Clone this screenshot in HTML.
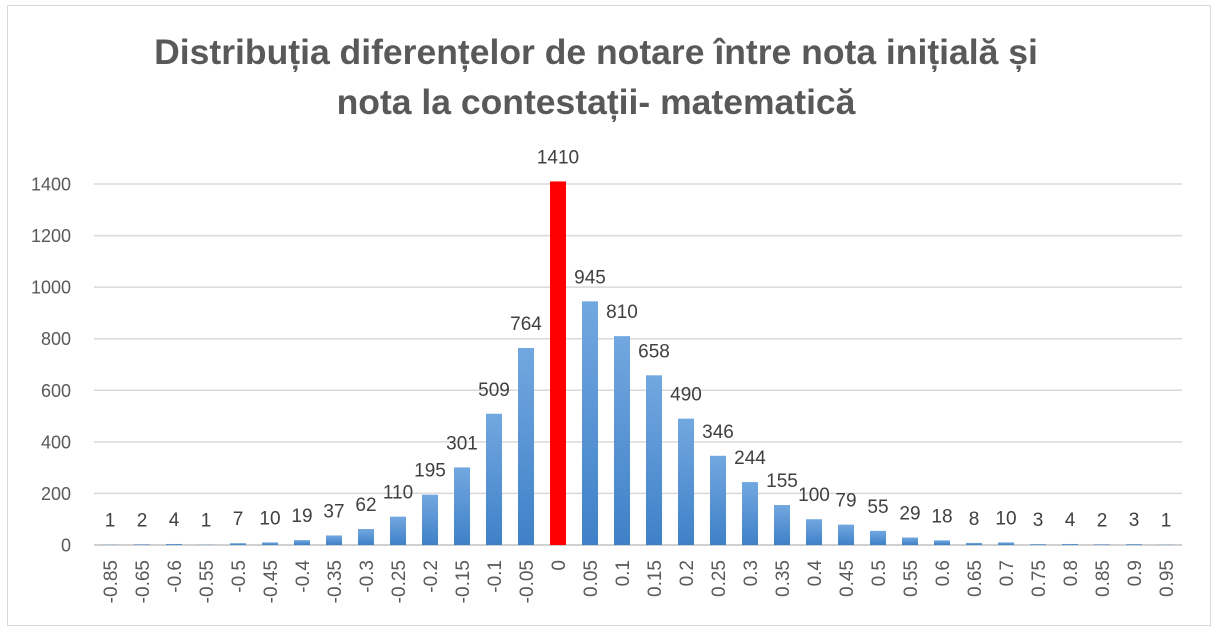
<!DOCTYPE html>
<html><head><meta charset="utf-8"><style>body{margin:0;background:#fff}svg{display:block}</style></head><body>
<svg width="1221" height="633" xmlns="http://www.w3.org/2000/svg" font-family="Liberation Sans, DejaVu Sans, sans-serif">
<defs><linearGradient id="g" x1="0" y1="0" x2="0" y2="1"><stop offset="0" stop-color="#72a8e0"/><stop offset="1" stop-color="#3f80c8"/></linearGradient></defs>
<rect x="0" y="0" width="1221" height="633" fill="#fff"/>
<rect x="7.5" y="5.5" width="1203" height="620" fill="none" stroke="#d9d9d9"/>
<text x="596" y="64" text-anchor="middle" font-size="35.5" font-weight="bold" fill="#595959">Distribuția diferențelor de notare între nota inițială și</text>
<text x="596" y="114" text-anchor="middle" font-size="35.5" font-weight="bold" fill="#595959">nota la contestații- matematică</text>
<g stroke="#d9d9d9" stroke-width="1.5" id="grid"></g>
<g id="yl" font-size="18" fill="#595959" text-anchor="end"></g>
<g id="bars"></g>
<g id="lab" font-size="19" fill="#404040" text-anchor="middle"></g>
<g id="xl" font-size="19" fill="#595959"></g>
</svg>
<script>
const ns="http://www.w3.org/2000/svg";
const cats=["-0.85","-0.65","-0.6","-0.55","-0.5","-0.45","-0.4","-0.35","-0.3","-0.25","-0.2","-0.15","-0.1","-0.05","0","0.05","0.1","0.15","0.2","0.25","0.3","0.35","0.4","0.45","0.5","0.55","0.6","0.65","0.7","0.75","0.8","0.85","0.9","0.95"];
const vals=[1,2,4,1,7,10,19,37,62,110,195,301,509,764,1410,945,810,658,490,346,244,155,100,79,55,29,18,8,10,3,4,2,3,1];
const y0=545,k=361/1400,x0=94,cw=32;
function el(t,a,p,txt){const e=document.createElementNS(ns,t);for(const q in a)e.setAttribute(q,a[q]);if(txt!==undefined)e.textContent=txt;document.getElementById(p).appendChild(e);}
for(let v=0;v<=1400;v+=200){const y=y0-v*k;el("line",{x1:x0,x2:1182,y1:y,y2:y,stroke:v==0?"#d0d0d0":"#d9d9d9","stroke-width":v==0?2:1.5},"grid");el("text",{x:71,y:y+6.5},"yl",v);}
cats.forEach((c,i)=>{const cx=x0+(i+0.5)*cw,h=vals[i]*k;
el("rect",{x:cx-8,y:y0-h,width:16,height:h,fill:i==14?"#ff0000":"url(#g)"},"bars");
el("text",{x:cx,y:y0-h-18},"lab",vals[i]);
el("text",{x:0,y:0,transform:`translate(${cx+7},${560}) rotate(-90)`,"text-anchor":"end"},"xl",c);});
</script>
</body></html>
